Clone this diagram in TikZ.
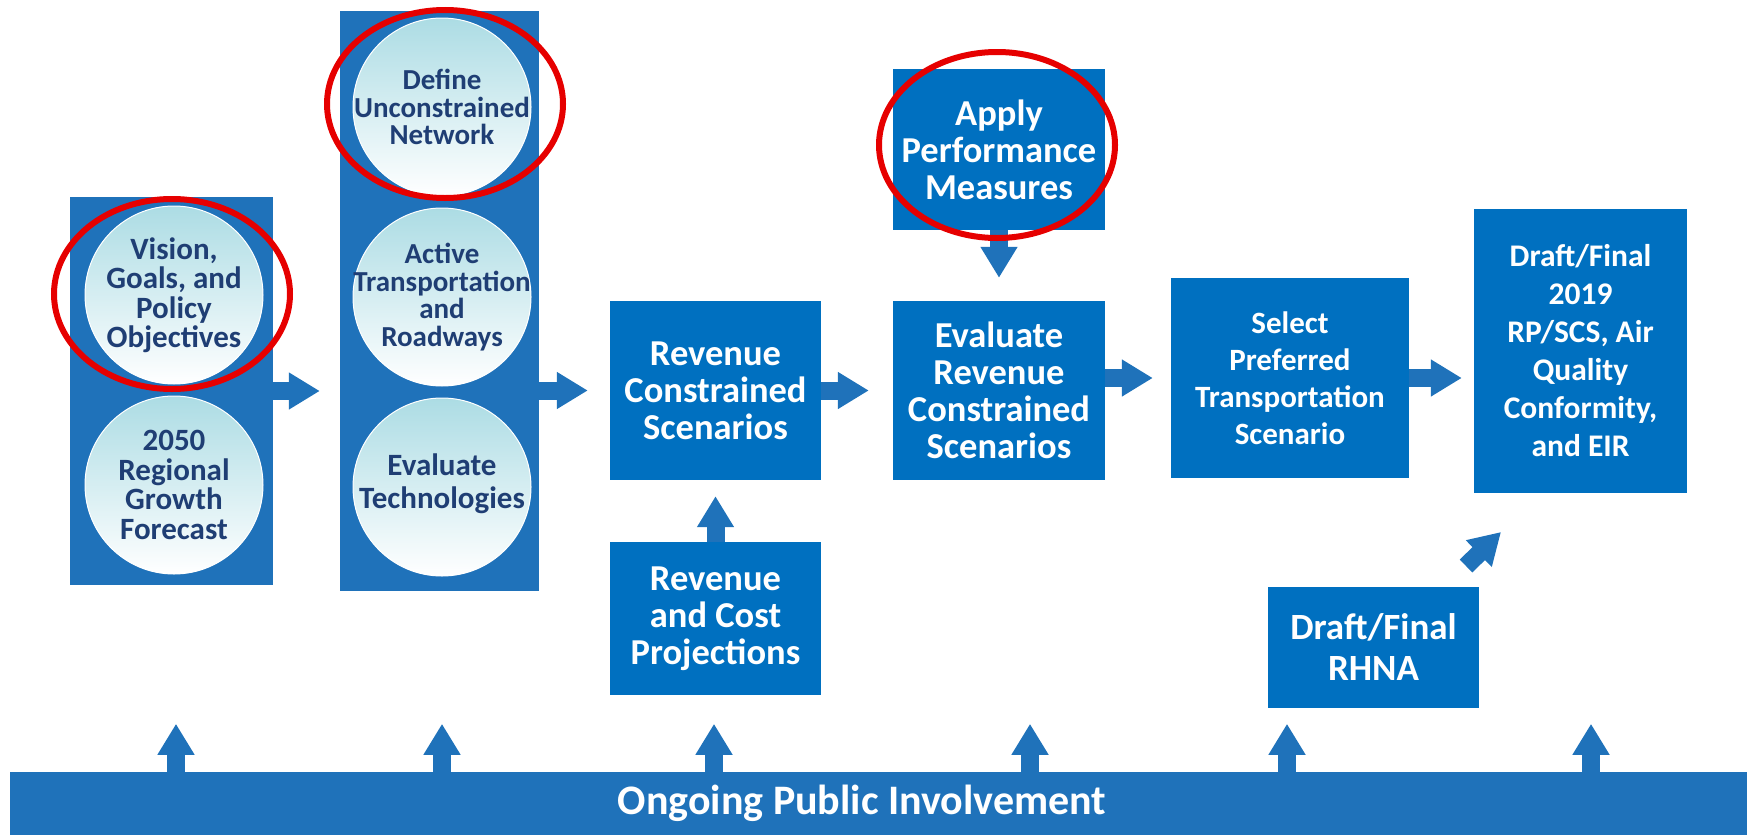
\documentclass[tikz,border=0pt]{standalone}
\usepackage{fontspec}
\setmainfont{Carlito}
\usepackage{tikz}
\usetikzlibrary{positioning,calc,arrows.meta}
\definecolor{colblue}{RGB}{31,114,186}
\definecolor{boxblue}{RGB}{0,112,192}
\definecolor{inkblue}{RGB}{31,62,116}
\definecolor{tealtop}{RGB}{172,220,228}
\definecolor{ringred}{RGB}{230,0,0}
\tikzstyle{column} = [fill=colblue, rectangle, inner sep=0pt]
\tikzstyle{circ} = [circle, minimum size=178pt, inner sep=0pt, top color=tealtop, bottom color=white, draw=white, line width=1pt]
\tikzstyle{ctext} = [text=inkblue, align=center, inner sep=0pt]
\tikzstyle{block} = [fill=boxblue, rectangle, inner sep=0pt, text=white, align=center, font=\bfseries]
\tikzstyle{to} = [draw=colblue, line width=18pt, -{Triangle[length=31pt,width=35pt]}]
\tikzstyle{ring} = [draw=ringred, line width=6pt]

\begin{document}
\begin{tikzpicture}[x=1pt, y=-1pt]
	\useasboundingbox (0,0) rectangle (1747,835);
	% columns of circles
	\node (vcol) [column, minimum width=203pt, minimum height=388pt] at (171.5,391) {};
	\node (ucol) [column, minimum width=199pt, minimum height=580pt] at (439.5,301) {};
	\node (vis) [circ, label={[ctext, font=\bfseries\fontsize{31}{29.5}\selectfont]center:Vision,\\Goals, and\\Policy\\Objectives}] at (174,295) {};
	\node (fc) [circ, below=11pt of vis, label={[ctext, font=\bfseries\fontsize{31}{29.5}\selectfont]center:2050\\Regional\\Growth\\Forecast}] {};
	\node (def) [circ, label={[ctext, font=\bfseries\fontsize{29}{27.5}\selectfont]center:Define\\Unconstrained\\Network}] at (442,107) {};
	\node (act) [circ, below=11pt of def, label={[ctext, font=\bfseries\fontsize{29}{27.5}\selectfont]center:Active\\Transportation\\and\\Roadways}] {};
	\node (tech) [circ, below=11pt of act, label={[ctext, font=\bfseries\fontsize{31}{33}\selectfont, yshift=3pt]center:Evaluate\\Technologies}] {};
	% blocks
	\node (apm) [block, minimum width=212pt, minimum height=161pt, font=\bfseries\fontsize{36.5}{37}\selectfont] at (999,149.5) {Apply\\Performance\\Measures};
	\node (rcs) [block, minimum width=211pt, minimum height=179pt, font=\bfseries\fontsize{36.5}{37}\selectfont] at (715.5,390.5) {Revenue\\Constrained\\Scenarios};
	\node (evs) [block, minimum width=212pt, minimum height=179pt, font=\bfseries\fontsize{36.5}{37}\selectfont] at (999,390.5) {Evaluate\\Revenue\\Constrained\\Scenarios};
	\node (rcp) [block, minimum width=211pt, minimum height=153pt, font=\bfseries\fontsize{36.5}{37}\selectfont] at (715.5,618.5) {Revenue\\and Cost\\Projections};
	\node (sel) [block, minimum width=238pt, minimum height=200pt, font=\bfseries\fontsize{31}{37}\selectfont] at (1290,378) {Select\\Preferred\\Transportation\\Scenario};
	\node (drf) [block, minimum width=213pt, minimum height=284pt, font=\bfseries\fontsize{31.5}{38}\selectfont] at (1580.5,351) {Draft/Final\\2019\\RP/SCS, Air\\Quality\\Conformity,\\and EIR};
	\node (rhna) [block, minimum width=211pt, minimum height=121pt, font=\bfseries\fontsize{37}{41}\selectfont] at (1373.5,647.5) {Draft/Final\\RHNA};
	% public involvement bar
	\node (bar) [column, minimum width=1737pt, minimum height=63pt] at (878.5,803.5) {};
	\node (pi) [text=white, font=\bfseries\fontsize{42}{44}\selectfont] at (862,803.5) {Ongoing Public Involvement};
	\coordinate (rtail) at (1466,566);
	\coordinate (rtip) at (1501,532);
	% arrows
	\draw [to, shorten >=20pt] (vcol.east) -- (vcol.east -| ucol.west);
	\draw [to, shorten >=22pt] (ucol.east |- rcs.west) -- (rcs.west);
	\draw [to, shorten >=24pt] (rcs.east) -- (evs.west);
	\draw [to, shorten >=18pt] (evs.east |- sel.west) -- (sel.west);
	\draw [to, shorten >=12pt] (sel.east) -- (sel.east -| drf.west);
	\draw [to, shorten >=23pt] (apm.south) -- (evs.north);
	\draw [to, shorten >=16pt] (rcp.north) -- (rcs.south);
	\draw [to] (rtail) -- (rtip);
	\foreach \x in {176,442,714,1030,1287,1591}
		\draw [to] (bar.north -| \x,0) -- ++(0,-48);
	% highlights
	\draw [ring] (172,294) ellipse [x radius=118, y radius=95];
	\draw [ring] (445,104) ellipse [x radius=118, y radius=94];
	\draw [ring] (997,145) ellipse [x radius=118, y radius=93];
\end{tikzpicture}
\end{document}
